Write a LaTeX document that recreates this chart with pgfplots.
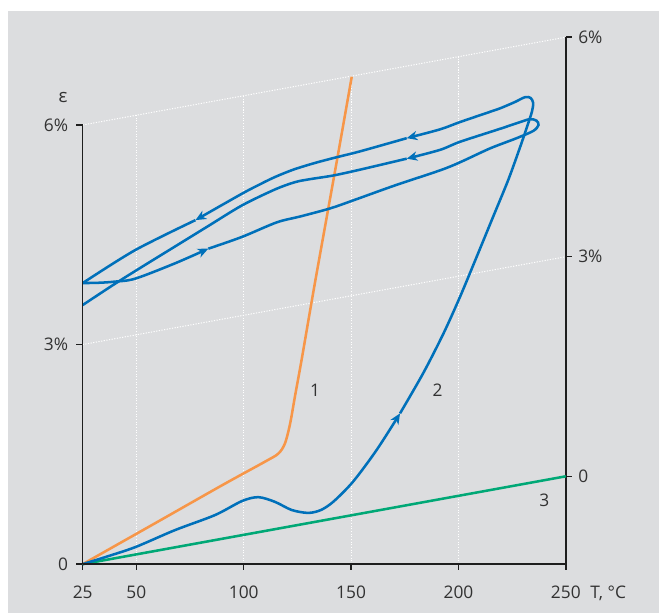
\documentclass[border=0pt]{standalone}
\usepackage{fontspec}
\setmainfont{Open Sans}
\usepackage{pgfplots}
\pgfplotsset{compat=1.18}
\usetikzlibrary{arrows.meta}
\definecolor{bgc}{RGB}{220,221,223}
\definecolor{bl}{RGB}{0,112,186}
\definecolor{orc}{RGB}{247,150,72}
\definecolor{grc}{RGB}{0,168,118}
\definecolor{axc}{RGB}{30,30,30}
\definecolor{txc}{RGB}{50,50,50}
\newcommand{\lf}{\fontsize{13}{15}\selectfont}
\tikzset{tk/.style={axc, line width=1.1pt}}
\begin{document}
\begin{tikzpicture}
\begin{axis}[
  x=1.610pt, y=54.88pt,
  xmin=25, xmax=250, ymin=0, ymax=6,
  axis x line=bottom, axis y line=left,
  axis line style={-, draw=axc, line width=1.1pt},
  xtick={25,50,100,150,200,250},
  xticklabels={25,50,100,150,200,250},
  ytick={0,3,6}, yticklabels={0,3\%,6\%},
  major tick length=0pt,
  tick label style={font=\lf, text=txc, inner sep=0pt},
  xticklabel style={anchor=base, yshift=-25.5pt},
  yticklabel style={anchor=east, xshift=-10.8pt},
  clip=false, axis on top,
  /pgf/number format/assume math mode=true,
  blue/.style={bl, line width=1.9pt, smooth},
  arr/.style={-{Stealth[length=8pt,width=7pt,inset=2.5pt]}},
]
% background
\fill[white] (axis cs:-13.52,-0.670) rectangle (axis cs:293.4,7.708);
\fill[bgc] (axis cs:-9.79,-0.670) rectangle (axis cs:293.4,7.558);
% grid
\begin{scope}[white, line width=0.75pt, dash pattern=on 0.9pt off 1.1pt]
\draw (axis cs:25,3) -- (axis cs:250,4.2);
\draw (axis cs:25,6) -- (axis cs:250,7.2);
\draw (axis cs:50,0) -- (axis cs:50,6.1333);
\draw (axis cs:100,0) -- (axis cs:100,6.4);
\draw (axis cs:150,0) -- (axis cs:150,6.6667);
\draw (axis cs:200,0) -- (axis cs:200,6.9333);
\end{scope}
% ticks
\draw[tk] (axis cs:25,0) -- ([yshift=-4.5pt]axis cs:25,0);
\draw[tk] (axis cs:50,0) -- ([yshift=-4.5pt]axis cs:50,0);
\draw[tk] (axis cs:100,0) -- ([yshift=-4.5pt]axis cs:100,0);
\draw[tk] (axis cs:150,0) -- ([yshift=-4.5pt]axis cs:150,0);
\draw[tk] (axis cs:200,0) -- ([yshift=-4.5pt]axis cs:200,0);
\draw[tk] (axis cs:250,0) -- ([yshift=-4.5pt]axis cs:250,0);
\draw[tk] (axis cs:25,0) -- ([xshift=-5pt]axis cs:25,0);
\draw[tk] (axis cs:25,3) -- ([xshift=-5pt]axis cs:25,3);
\draw[tk] (axis cs:25,6) -- ([xshift=-5pt]axis cs:25,6);
% right axis
\draw[tk] (axis cs:250,0) -- (axis cs:250,7.2);
\draw[tk] (axis cs:250,1.2) -- ([xshift=4.5pt]axis cs:250,1.2);
\draw[tk] (axis cs:250,4.2) -- ([xshift=4.5pt]axis cs:250,4.2);
\draw[tk] (axis cs:250,7.2) -- ([xshift=4.5pt]axis cs:250,7.2);
\node[anchor=west, font=\lf, text=txc, inner sep=0pt] at (axis cs:255.7,1.2) {0};
\node[anchor=west, font=\lf, text=txc, inner sep=0pt] at (axis cs:255.7,4.2) {3\%};
\node[anchor=west, font=\lf, text=txc, inner sep=0pt] at (axis cs:255.7,7.2) {6\%};
% curve 3
\addplot[grc, line width=1.9pt] coordinates {(25,0) (250,1.2)};
% curve 1
\addplot[orc, line width=1.9pt, smooth] coordinates {
(25,0) (60,0.58) (90,1.079) (109.9,1.40) (116.1,1.51) (119.2,1.65) (121.6,1.92)
(123.9,2.30) (127.0,2.80) (133.2,3.85) (144.1,5.63) (150.3,6.66)};
% curve 2
\addplot[blue, arr] coordinates {
(25,0) (37,0.11) (49.8,0.236) (68,0.465) (86.6,0.67) (99.1,0.861) (106.8,0.915)
(114.6,0.85) (122.3,0.74) (130,0.70) (136,0.74) (142,0.86) (151,1.13)
(161.9,1.56) (172.8,2.06)};
\addplot[blue, arr] coordinates {
(172.8,2.06) (183.6,2.61) (193.0,3.15) (200.7,3.65) (208.5,4.20) (216.2,4.75)
(223.2,5.25) (228.5,5.68) (232.0,5.98) (234.2,6.18) (234.8,6.30) (233.6,6.37)
(231.0,6.38) (226,6.31) (219.6,6.23) (214.7,6.18) (200.7,6.04) (191.4,5.94) (175.9,5.82)};
\addplot[blue, arr] coordinates {
(175.9,5.82) (154.2,5.64) (143.3,5.56) (133,5.48) (123.1,5.39) (114.6,5.29)
(107.6,5.19) (99.1,5.06) (77.5,4.70)};
\addplot[blue] coordinates {
(77.5,4.70) (49.4,4.29) (25,3.84)};
\addplot[blue, arr] coordinates {
(25,3.84) (33,3.845) (40,3.86) (49.4,3.90) (68,4.11) (83.5,4.31)};
\addplot[blue, arr] coordinates {
(83.5,4.31) (99.1,4.47) (115.4,4.67) (126.3,4.75) (140.2,4.86) (151,4.97) (170,5.17)
(191.4,5.38) (200.7,5.49) (214.7,5.68) (227.1,5.82) (234.9,5.92) (237.3,6.00)
(236.3,6.06) (233.3,6.08) (228.7,6.04) (219.6,5.95) (200.7,5.77) (191.4,5.66) (175.9,5.54)};
\addplot[blue] coordinates {
(175.9,5.54) (154.2,5.39) (141.7,5.31) (130.9,5.26) (124,5.22) (114.6,5.12)
(99.1,4.90) (83.5,4.62) (68,4.34) (52.5,4.06) (40,3.83) (25,3.54)};
% labels
\node[font=\fontsize{14}{16}\selectfont, text=txc] at (axis cs:15.9,6.38) {ε};
\node[font=\lf, text=txc] at (axis cs:133.2,2.378) {1};
\node[font=\lf, text=txc] at (axis cs:190.3,2.378) {2};
\node[font=\lf, text=txc] at (axis cs:240,0.875) {3};
\node[anchor=base west, font=\lf, text=txc, inner sep=0pt] at ([yshift=-25.5pt]axis cs:261.3,0) {T, °C};
\end{axis}
\end{tikzpicture}
\end{document}
